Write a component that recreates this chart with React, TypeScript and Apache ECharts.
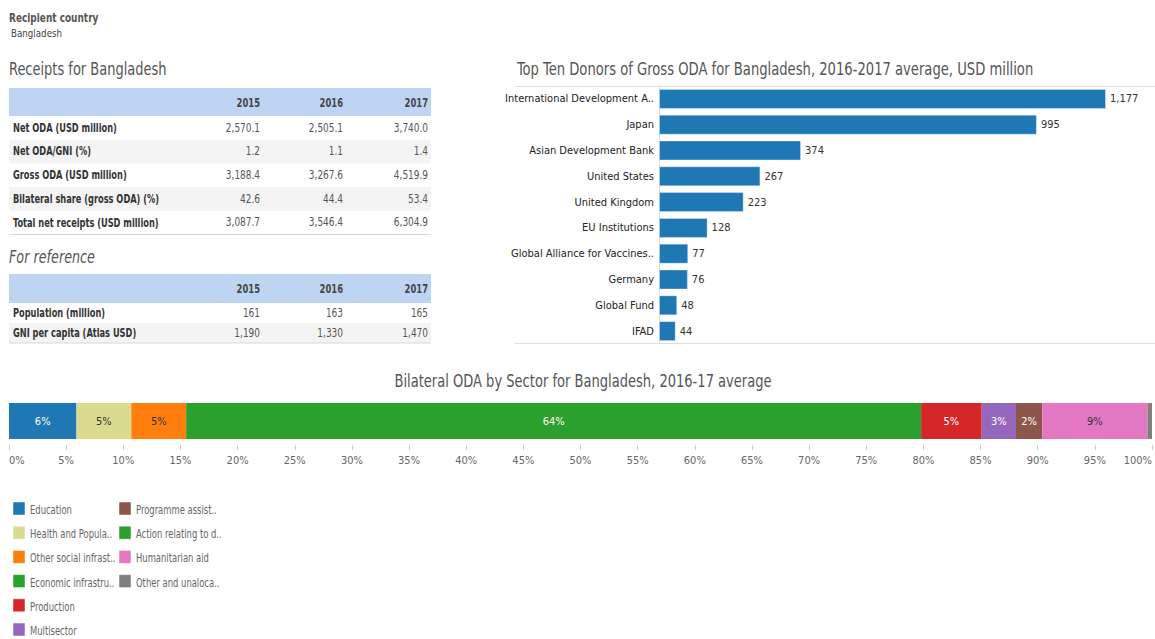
import React, { useEffect, useRef } from 'react';
import * as echarts from 'echarts';

const FONT = '"DejaVu Sans Condensed", "Liberation Sans", sans-serif';

// ---- Data ----
const recipientLabel = 'Recipient country';
const recipientName = 'Bangladesh';

const years = ['2015', '2016', '2017'];
const receiptLabels = [
  'Net ODA (USD million)',
  'Net ODA/GNI (%)',
  'Gross ODA (USD million)',
  'Bilateral share (gross ODA) (%)',
  'Total net receipts (USD million)',
];
const netOda = [2570.1, 2505.1, 3740.0];
const netOdaGni = [1.2, 1.1, 1.4];
const grossOda = [3188.4, 3267.6, 4519.9];
const bilateralShare = [42.6, 44.4, 53.4];
const totalNetReceipts = [3087.7, 3546.4, 6304.9];

const referenceLabels = ['Population (million)', 'GNI per capita (Atlas USD)'];
const population = [161, 163, 165];
const gniPerCapita = [1190, 1330, 1470];

const donors = [
  'International Development A..',
  'Japan',
  'Asian Development Bank',
  'United States',
  'United Kingdom',
  'EU Institutions',
  'Global Alliance for Vaccines..',
  'Germany',
  'Global Fund',
  'IFAD',
];
const donorValues = [1177, 995, 374, 267, 223, 128, 77, 76, 48, 44];

const sectors = [
  'Education',
  'Health and Popula..',
  'Other social infrast..',
  'Economic infrastru..',
  'Production',
  'Multisector',
  'Programme assist..',
  'Action relating to d..',
  'Humanitarian aid',
  'Other and unaloca..',
];
const sectorShares = [5.9, 4.8, 4.8, 64.3, 5.3, 3.0, 2.3, 0, 9.2, 0.4];
const sectorColors = ['#1f77b4', '#dbdb8d', '#ff7f0e', '#2ca02c', '#d62728', '#9467bd', '#8c564b', '#2ca02c', '#e377c2', '#7f7f7f'];
const sectorLabelColors = ['#ffffff', '#333333', '#333333', '#ffffff', '#ffffff', '#ffffff', '#ffffff', '#ffffff', '#333333', '#ffffff'];

const titleReceipts = 'Receipts for Bangladesh';
const titleReference = 'For reference';
const titleDonors = 'Top Ten Donors of Gross ODA for Bangladesh, 2016-2017 average, USD million';
const titleSectors = 'Bilateral ODA by Sector for Bangladesh, 2016-17 average';

// ---- helpers ----
const fmt1 = (v: number) => v.toLocaleString('en-US', { minimumFractionDigits: 1, maximumFractionDigits: 1 });
const fmt0 = (v: number) => v.toLocaleString('en-US', { maximumFractionDigits: 0 });

function txt(x: number, y: number, text: string, opts: any = {}) {
  return {
    type: 'text',
    x,
    y,
    scaleX: opts.sx || 1,
    silent: true,
    style: {
      text,
      fill: opts.fill || '#555',
      fontSize: opts.size || 12,
      fontWeight: opts.weight || 'normal',
      fontStyle: opts.style || 'normal',
      fontFamily: FONT,
      align: opts.align || 'left',
      textAlign: opts.align || 'left',
      verticalAlign: 'middle',
      textVerticalAlign: 'middle',
    },
  };
}

function buildTable(
  rows: string[],
  values: string[][],
  geo: { x0: number; x1: number; top: number; headH: number; rowH: number; cols: number[]; stripe: number[] }
) {
  const els: any[] = [];
  els.push({ type: 'rect', silent: true, shape: { x: geo.x0, y: geo.top, width: geo.x1 - geo.x0, height: geo.headH }, style: { fill: '#bdd5f3' } });
  years.forEach((y, i) => {
    els.push(txt(geo.cols[i], geo.top + geo.headH / 2 + 1, y, { align: 'right', weight: 'bold', fill: '#444', sx: 0.78 }));
  });
  rows.forEach((label, r) => {
    const rt = geo.top + geo.headH + r * geo.rowH;
    if (geo.stripe.includes(r)) {
      els.push({ type: 'rect', silent: true, shape: { x: geo.x0, y: rt, width: geo.x1 - geo.x0, height: geo.rowH }, style: { fill: '#f4f4f4' } });
    }
    els.push(txt(geo.x0 + 4, rt + geo.rowH / 2, label, { weight: 'bold', fill: '#333', sx: 0.765 }));
    values[r].forEach((v, c) => {
      els.push(txt(geo.cols[c], rt + geo.rowH / 2, v, { align: 'right', fill: '#555', sx: 0.83 }));
    });
  });
  const bottom = geo.top + geo.headH + rows.length * geo.rowH;
  els.push({ type: 'line', silent: true, shape: { x1: geo.x0, y1: bottom, x2: geo.x1, y2: bottom }, style: { stroke: '#d8d8d8', lineWidth: 1 } });
  return els;
}

function buildLegend(names: string[], colors: string[], x: number, top: number, step: number) {
  const els: any[] = [];
  names.forEach((n, i) => {
    const y = top + i * step;
    els.push({ type: 'rect', silent: true, shape: { x, y, width: 12, height: 13 }, style: { fill: colors[i], stroke: 'rgba(255,255,255,0.5)', lineWidth: 1 } });
    els.push(txt(x + 17, y + 8, n, { fill: '#666', sx: 0.78 }));
  });
  return els;
}

export default function App() {
  const ref = useRef<HTMLDivElement>(null);

  useEffect(() => {
    if (!ref.current) return;
    const chart = echarts.init(ref.current, undefined, { renderer: 'svg' });

    const receiptValues = [
      netOda.map(fmt1),
      netOdaGni.map(fmt1),
      grossOda.map(fmt1),
      bilateralShare.map(fmt1),
      totalNetReceipts.map(fmt1),
    ];
    const referenceValues = [population.map(fmt0), gniPerCapita.map(fmt0)];

    const graphics: any[] = [
      txt(9, 18, recipientLabel, { weight: 'bold', fill: '#555', size: 12, sx: 0.83 }),
      txt(11, 33, recipientName, { fill: '#444', size: 11, sx: 0.88 }),
      txt(9, 69, titleReceipts, { size: 17, fill: '#555', sx: 0.85 }),
      ...buildTable(receiptLabels, receiptValues, {
        x0: 9, x1: 431, top: 88, headH: 28, rowH: 23.7, cols: [260, 343, 428], stripe: [1, 3],
      }),
      txt(9, 257, titleReference, { size: 17, fill: '#555', style: 'italic', sx: 0.835 }),
      ...buildTable(referenceLabels, referenceValues, {
        x0: 9, x1: 431, top: 274, headH: 29, rowH: 20, cols: [260, 343, 428], stripe: [1],
      }),
      txt(517, 69, titleDonors, { size: 17, fill: '#555', sx: 0.86 }),
      { type: 'line', silent: true, shape: { x1: 515, y1: 86.5, x2: 1155, y2: 86.5 }, style: { stroke: '#dddddd', lineWidth: 1 } },
      { type: 'line', silent: true, shape: { x1: 515, y1: 343.5, x2: 1155, y2: 343.5 }, style: { stroke: '#dddddd', lineWidth: 1 } },
      txt(583, 381, titleSectors, { size: 17, fill: '#555', align: 'center', sx: 0.855 }),
      ...buildLegend(sectors.slice(0, 6), sectorColors.slice(0, 6), 13, 502, 24.2),
      ...buildLegend(sectors.slice(6), sectorColors.slice(6), 119, 502, 24.2),
    ];

    const sectorSeries = sectors.map((name, i) => ({
      name,
      type: 'bar',
      stack: 'total',
      xAxisIndex: 1,
      yAxisIndex: 1,
      barWidth: 36,
      itemStyle: { color: sectorColors[i] },
      label: {
        show: true,
        position: 'inside',
        color: sectorLabelColors[i],
        fontSize: 11,
        fontFamily: FONT,
        formatter: (p: any) => (p.value >= 1 ? Math.round(p.value) + '%' : ''),
      },
      data: [sectorShares[i]],
    }));

    chart.setOption({
      animation: false,
      backgroundColor: '#ffffff',
      textStyle: { fontFamily: FONT },
      graphic: graphics,
      grid: [
        { left: 659, right: 0, top: 86, height: 258, containLabel: false },
        { left: 9, right: 0, top: 403, height: 36, containLabel: false },
      ],
      xAxis: [
        { gridIndex: 0, type: 'value', min: 0, max: 1306, show: false },
        {
          gridIndex: 1,
          type: 'value',
          min: 0,
          max: 100,
          interval: 5,
          offset: 6,
          axisLine: { show: false },
          axisTick: { show: true, length: 5, lineStyle: { color: '#cccccc' } },
          splitLine: { show: false },
          axisLabel: {
            formatter: '{value}%',
            color: '#666',
            fontSize: 11,
            fontFamily: FONT,
            margin: 10,
            alignMinLabel: 'left',
            alignMaxLabel: 'right',
          },
        },
      ],
      yAxis: [
        {
          gridIndex: 0,
          type: 'category',
          inverse: true,
          data: donors,
          axisLine: { show: true, lineStyle: { color: '#dddddd' } },
          axisTick: { show: false },
          axisLabel: { color: '#222', fontSize: 11, fontFamily: FONT, margin: 5 },
        },
        {
          gridIndex: 1,
          type: 'category',
          data: ['Bangladesh'],
          show: false,
        },
      ],
      series: [
        {
          type: 'bar',
          xAxisIndex: 0,
          yAxisIndex: 0,
          barWidth: 20,
          itemStyle: { color: '#1f77b4', borderColor: 'rgba(255,255,255,0.35)', borderWidth: 1 },
          label: {
            show: true,
            position: 'right',
            distance: 4,
            color: '#333',
            fontSize: 11,
            fontFamily: FONT,
            formatter: (p: any) => fmt0(p.value),
          },
          data: donorValues,
        },
        ...sectorSeries,
      ],
    });

    return () => chart.dispose();
  }, []);

  return (
    <div
      ref={ref}
      style={{ position: 'absolute', left: 0, top: 0, width: 1155, height: 639 }}
    />
  );
}
